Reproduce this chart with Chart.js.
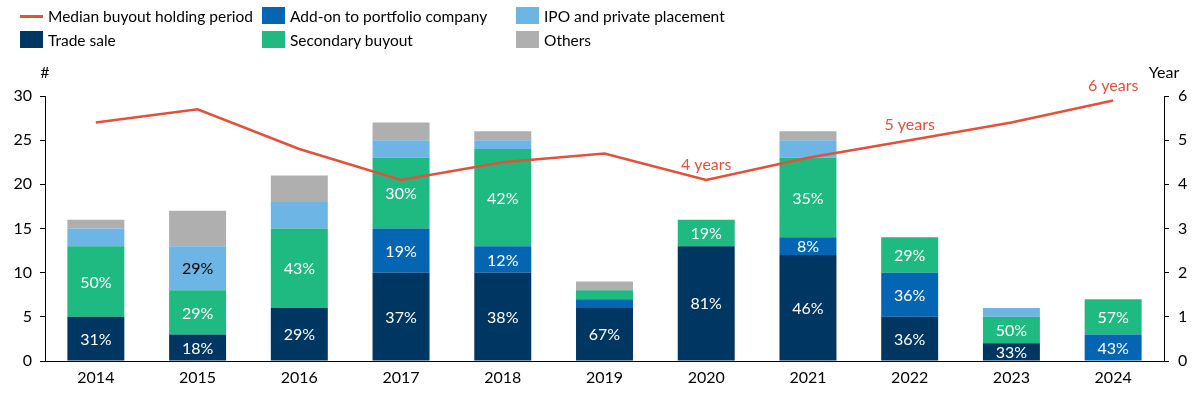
<!DOCTYPE html>
<html>
<head>
<meta charset="utf-8">
<script src="https://cdn.jsdelivr.net/npm/chart.js@4"></script>
<style>
  html, body { margin: 0; padding: 0; background: #fff; }
  #wrap { position: relative; width: 1200px; height: 396px; font-family: Lato, "Open Sans", sans-serif; }
  #chart { position: absolute; left: 0; top: 0; }
  .lg { position: absolute; font-size: 15.5px; color: #000; line-height: 18px; white-space: nowrap; }
  .lg i { position: absolute; left: 0; top: 0; width: 23px; height: 17px; }
  .lg i.line { top: 8px; height: 2.5px; }
  .lg span { position: absolute; left: 28px; top: 0; }
</style>
</head>
<body>
<div id="wrap">
  <canvas id="chart" width="1200" height="396"></canvas>
</div>
<script>
const years = ['2014', '2015', '2016', '2017', '2018', '2019', '2020', '2021', '2022', '2023', '2024'];

// number of exits per route
const tradeSale = [5, 3, 6, 10, 10, 6, 13, 12, 5, 2, 0];
const addOn = [0, 0, 0, 5, 3, 1, 0, 2, 5, 0, 3];
const secondary = [8, 5, 9, 8, 11, 1, 3, 9, 4, 3, 4];
const ipo = [2, 5, 3, 2, 1, 0, 0, 2, 0, 1, 0];
const others = [1, 4, 3, 2, 1, 1, 0, 1, 0, 0, 0];

// median holding period (years)
const holding = [5.4, 5.7, 4.8, 4.1, 4.5, 4.7, 4.1, 4.6, 5.0, 5.4, 5.9];
const holdingNotes = [null, null, null, null, null, null, '4 years', null, '5 years', null, '6 years'];

// share labels shown inside segments
const tradeLbl = ['31%', '18%', '29%', '37%', '38%', '67%', '81%', '46%', '36%', '33%', null];
const addOnLbl = [null, null, null, '19%', '12%', null, null, '8%', '36%', null, '43%'];
const secondaryLbl = ['50%', '29%', '43%', '30%', '42%', null, '19%', '35%', '29%', '50%', '57%'];
const ipoLbl = [null, '29%', null, null, null, null, null, null, null, null, null];
const othersLbl = [null, null, null, null, null, null, null, null, null, null, null];

const leftTicks = [0, 5, 10, 15, 20, 25, 30];
const rightTicks = [0, 1, 2, 3, 4, 5, 6];

const RED = '#e4503a';
const FONT = 'Lato, "Open Sans", sans-serif';

const bars = [
  { label: 'Trade sale', data: tradeSale, color: '#003662', labels: tradeLbl, text: '#fff' },
  { label: 'Add-on to portfolio company', data: addOn, color: '#0466b2', labels: addOnLbl, text: '#fff' },
  { label: 'Secondary buyout', data: secondary, color: '#1fb982', labels: secondaryLbl, text: '#fff' },
  { label: 'IPO and private placement', data: ipo, color: '#6db5e5', labels: ipoLbl, text: '#000' },
  { label: 'Others', data: others, color: '#afafaf', labels: othersLbl, text: '#000' }
];

const datasets = [{
  type: 'line',
  label: 'Median buyout holding period',
  data: holding,
  yAxisID: 'y1',
  borderColor: RED,
  borderWidth: 2.5,
  pointRadius: 0,
  tension: 0,
  order: 0
}].concat(bars.map(b => ({
  type: 'bar',
  label: b.label,
  data: b.data,
  backgroundColor: b.color,
  yAxisID: 'y',
  barPercentage: 0.56,
  categoryPercentage: 1,
  order: 1,
  segLabels: b.labels,
  segText: b.text
})));

// legend (html), three columns x two rows
const legendItems = [
  { text: 'Median buyout holding period', color: RED, line: true, x: 20, y: 7 },
  { text: bars[1].label, color: bars[1].color, x: 262, y: 7 },
  { text: bars[3].label, color: bars[3].color, x: 516, y: 7 },
  { text: bars[0].label, color: bars[0].color, x: 20, y: 31 },
  { text: bars[2].label, color: bars[2].color, x: 262, y: 31 },
  { text: bars[4].label, color: bars[4].color, x: 516, y: 31 }
];
const wrap = document.getElementById('wrap');
legendItems.forEach(it => {
  const d = document.createElement('div');
  d.className = 'lg';
  d.style.left = it.x + 'px';
  d.style.top = it.y + 'px';
  d.innerHTML = '<i class="' + (it.line ? 'line' : '') + '" style="background:' + it.color + '"></i><span>' + it.text + '</span>';
  wrap.appendChild(d);
});

const extras = {
  id: 'extras',
  afterDatasetsDraw(chart) {
    const ctx = chart.ctx;
    ctx.save();
    ctx.font = '16px ' + FONT;
    ctx.textAlign = 'center';
    ctx.textBaseline = 'middle';
    chart.data.datasets.forEach((ds, i) => {
      if (!ds.segLabels) return;
      const meta = chart.getDatasetMeta(i);
      meta.data.forEach((el, j) => {
        const t = ds.segLabels[j];
        if (!t) return;
        ctx.fillStyle = ds.segText;
        ctx.fillText(t, el.x, (el.y + el.base) / 2 + 1);
      });
    });
    // notes on the line
    const lm = chart.getDatasetMeta(0);
    ctx.fillStyle = RED;
    lm.data.forEach((p, j) => {
      if (holdingNotes[j]) ctx.fillText(holdingNotes[j], p.x, p.y - 15);
    });
    // axis titles
    ctx.fillStyle = '#000';
    const a = chart.chartArea;
    ctx.fillText('#', a.left, 73);
    ctx.fillText('Year', a.right, 73);
    ctx.restore();
  }
};

new Chart(document.getElementById('chart'), {
  data: { labels: years, datasets: datasets },
  options: {
    responsive: false,
    animation: false,
    layout: { padding: { top: 96, left: 0, right: 0, bottom: 0 } },
    plugins: { legend: { display: false }, tooltip: { enabled: false } },
    scales: {
      x: {
        stacked: true,
        grid: { display: false, drawTicks: false },
        border: { display: true, color: '#000', width: 1 },
        ticks: { color: '#000', font: { family: FONT, size: 16 }, padding: 7 },
        afterFit(s) { s.height = 35; }
      },
      y: {
        position: 'left',
        stacked: true,
        min: 0, max: 30,
        afterBuildTicks(s) { s.ticks = leftTicks.map(v => ({ value: v })); },
        grid: { drawOnChartArea: false, drawTicks: true, tickLength: 5, color: '#000' },
        border: { display: true, color: '#000', width: 1 },
        ticks: { color: '#000', font: { family: FONT, size: 16 }, padding: 8 },
        afterFit(s) { s.width = 45; }
      },
      y1: {
        position: 'right',
        stacked: false,
        min: 0, max: 6,
        afterBuildTicks(s) { s.ticks = rightTicks.map(v => ({ value: v })); },
        grid: { drawOnChartArea: false, drawTicks: true, tickLength: 5, color: '#000' },
        border: { display: true, color: '#000', width: 1 },
        ticks: { color: '#000', font: { family: FONT, size: 16 }, padding: 9 },
        afterFit(s) { s.width = 36; }
      }
    }
  },
  plugins: [extras]
});
</script>
</body>
</html>
